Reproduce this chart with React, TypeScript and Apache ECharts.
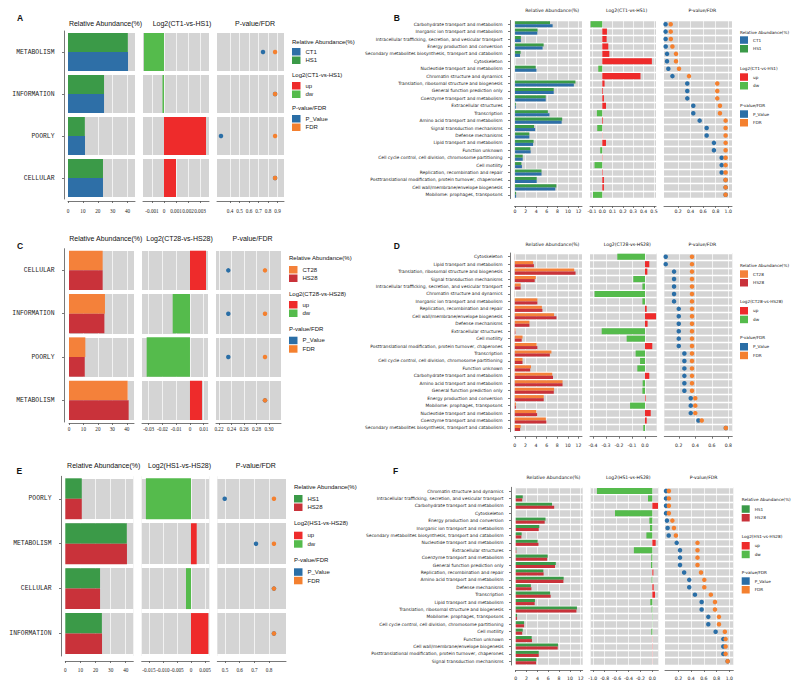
import React, { useEffect, useRef } from 'react';
import * as echarts from 'echarts';

// ---------- Panel A ----------
const catsA = ['METABOLISM', 'INFORMATION', 'POORLY', 'CELLULAR'];
const raA_CT1 = [40.3, 24.2, 11.4, 23.5];
const raA_HS1 = [40.2, 24.2, 11.3, 23.5];
const log2A = [-0.00167, -0.000125, 0.0035, 0.001];
const pA = [0.747, 0.874, 0.305, 0.874];
const fdrA = [0.874, 0.874, 0.874, 0.874];

// ---------- Panel C ----------
const catsC = ['CELLULAR', 'INFORMATION', 'POORLY', 'METABOLISM'];
const raC_CT28 = [23.3, 24.9, 11.3, 40.6];
const raC_HS28 = [23.3, 24.5, 10.9, 41.3];
const log2C = [0.01164, -0.01258, -0.0315, 0.00873];
const pC = [0.2349, 0.2349, 0.2349, 0.2936];
const fdrC = [0.2936, 0.2936, 0.2936, 0.2936];

// ---------- Panel E ----------
const catsE = ['POORLY', 'METABOLISM', 'CELLULAR', 'INFORMATION'];
const raE_HS1 = [10.9, 40.7, 23.0, 24.2];
const raE_HS28 = [10.9, 40.8, 23.0, 24.3];
const log2E = [-0.0161, 0.00204, -0.00179, 0.00618];
const pE = [0.498, 0.711, 0.833, 0.833];
const fdrE = [0.833, 0.833, 0.833, 0.833];

// ---------- Panel B ----------
const catsB = [
  'Carbohydrate transport and metabolism',
  'Inorganic ion transport and metabolism',
  'Intracellular trafficking, secretion, and vesicular transport',
  'Energy production and conversion',
  'Secondary metabolites biosynthesis, transport and catabolism',
  'Cytoskeleton',
  'Nucleotide transport and metabolism',
  'Chromatin structure and dynamics',
  'Translation, ribosomal structure and biogenesis',
  'General function prediction only',
  'Coenzyme transport and metabolism',
  'Extracellular structures',
  'Transcription',
  'Amino acid transport and metabolism',
  'Signal transduction mechanisms',
  'Defense mechanisms',
  'Lipid transport and metabolism',
  'Function unknown',
  'Cell cycle control, cell division, chromosome partitioning',
  'Cell motility',
  'Replication, recombination and repair',
  'Posttranslational modification, protein turnover, chaperones',
  'Cell wall/membrane/envelope biogenesis',
  'Mobilome: prophages, transposons',
];
const raB_CT1 = [7.1, 4.2, 1.1, 5.2, 0.95, 0.01, 4.05, 0.01, 11.1, 7.3, 5.8, 0.15, 6.5, 8.8, 3.8, 2.7, 3.4, 2.95, 1.45, 1.3, 5.0, 4.1, 7.6, 0.2];
const raB_HS1 = [6.6, 4.25, 1.1, 5.4, 1.05, 0.01, 3.9, 0.01, 11.4, 7.3, 5.8, 0.15, 6.2, 8.9, 3.6, 2.7, 3.5, 2.9, 1.45, 1.2, 5.0, 4.1, 7.8, 0.2];
const log2B = [-0.113, 0.045, 0.042, 0.058, 0.068, 0.48, -0.039, 0.37, 0.022, 0.007, 0.016, 0.036, -0.052, 0.007, -0.049, 0.002, 0.036, -0.02, 0.003, -0.075, 0.005, 0.016, 0.016, -0.09];
const pB = [0.001, 0.001, 0.002, 0.003, 0.024, 0.024, 0.045, 0.11, 0.347, 0.347, 0.347, 0.443, 0.443, 0.544, 0.656, 0.656, 0.772, 0.772, 0.895, 0.895, 0.895, 0.958, 0.958, 0.958];
const fdrB = [0.083, 0.083, 0.085, 0.11, 0.167, 0.167, 0.215, 0.374, 0.825, 0.825, 0.825, 0.868, 0.868, 0.958, 0.958, 0.958, 0.958, 0.958, 0.958, 0.958, 0.958, 0.958, 0.958, 0.958];

// ---------- Panel D ----------
const catsD = [
  'Cytoskeleton',
  'Lipid transport and metabolism',
  'Translation, ribosomal structure and biogenesis',
  'Signal transduction mechanisms',
  'Intracellular trafficking, secretion, and vesicular transport',
  'Chromatin structure and dynamics',
  'Inorganic ion transport and metabolism',
  'Replication, recombination and repair',
  'Cell wall/membrane/envelope biogenesis',
  'Defense mechanisms',
  'Extracellular structures',
  'Cell motility',
  'Posttranslational modification, protein turnover, chaperones',
  'Transcription',
  'Cell cycle control, cell division, chromosome partitioning',
  'Function unknown',
  'Carbohydrate transport and metabolism',
  'Amino acid transport and metabolism',
  'General function prediction only',
  'Energy production and conversion',
  'Mobilome: prophages, transposons',
  'Nucleotide transport and metabolism',
  'Coenzyme transport and metabolism',
  'Secondary metabolites biosynthesis, transport and catabolism',
];
const raD_CT28 = [0.01, 3.45, 11.2, 3.95, 1.1, 0.01, 4.25, 5.1, 7.4, 2.75, 0.12, 1.45, 4.1, 6.9, 1.45, 3.05, 7.05, 9.0, 7.4, 5.45, 0.2, 4.05, 5.85, 1.1];
const raD_HS28 = [0.01, 3.6, 11.45, 3.75, 1.1, 0.01, 4.25, 5.2, 7.85, 2.75, 0.12, 1.3, 4.25, 6.6, 1.45, 2.9, 7.2, 9.0, 7.35, 5.45, 0.2, 4.2, 5.95, 1.0];
const log2D = [-0.213, 0.033, 0.018, -0.09, -0.02, -0.388, -0.02, 0.013, 0.085, 0.02, -0.333, -0.141, 0.056, -0.072, -0.038, -0.059, 0.033, -0.018, -0.02, 0.005, -0.115, 0.044, 0.013, -0.013];
const pD = [0.042, 0.042, 0.143, 0.143, 0.143, 0.143, 0.143, 0.2, 0.2, 0.2, 0.2, 0.2, 0.2, 0.268, 0.268, 0.268, 0.268, 0.268, 0.268, 0.345, 0.345, 0.345, 0.438, 0.77];
const fdrD = [0.36, 0.36, 0.36, 0.36, 0.36, 0.36, 0.36, 0.36, 0.36, 0.36, 0.36, 0.36, 0.36, 0.36, 0.36, 0.36, 0.36, 0.36, 0.36, 0.4, 0.4, 0.4, 0.478, 0.77];

// ---------- Panel F ----------
const catsF = [
  'Chromatin structure and dynamics',
  'Intracellular trafficking, secretion, and vesicular transport',
  'Carbohydrate transport and metabolism',
  'Cytoskeleton',
  'Energy production and conversion',
  'Inorganic ion transport and metabolism',
  'Secondary metabolites biosynthesis, transport and catabolism',
  'Nucleotide transport and metabolism',
  'Extracellular structures',
  'Coenzyme transport and metabolism',
  'General function prediction only',
  'Replication, recombination and repair',
  'Amino acid transport and metabolism',
  'Defense mechanisms',
  'Transcription',
  'Lipid transport and metabolism',
  'Translation, ribosomal structure and biogenesis',
  'Mobilome: prophages, transposons',
  'Cell cycle control, cell division, chromosome partitioning',
  'Cell motility',
  'Function unknown',
  'Cell wall/membrane/envelope biogenesis',
  'Posttranslational modification, protein turnover, chaperones',
  'Signal transduction mechanisms',
];
const raF_HS1 = [0.01, 1.3, 6.7, 0.01, 5.5, 4.35, 1.1, 4.05, 0.12, 5.9, 7.4, 5.1, 8.85, 2.8, 6.35, 3.55, 11.3, 0.25, 1.55, 1.3, 2.95, 7.8, 4.25, 3.8];
const raF_HS28 = [0.01, 1.2, 7.1, 0.01, 5.35, 4.25, 1.05, 4.2, 0.12, 5.8, 7.25, 5.15, 8.8, 2.9, 6.45, 3.5, 11.2, 0.25, 1.55, 1.2, 3.0, 7.75, 4.25, 3.75];
const log2F = [-0.93, -0.073, 0.095, -0.627, -0.05, -0.04, -0.1, 0.056, -0.31, -0.017, -0.022, 0.017, -0.011, 0.022, 0.045, -0.034, -0.011, -0.005, -0.003, -0.017, 0.003, 0.004, 0.003, 0.002];
const pF = [0.005, 0.005, 0.005, 0.005, 0.02, 0.03, 0.047, 0.173, 0.225, 0.225, 0.225, 0.29, 0.37, 0.37, 0.46, 0.565, 0.565, 0.67, 0.67, 0.785, 0.906, 0.906, 0.906, 0.974];
const fdrF = [0.05, 0.05, 0.05, 0.05, 0.105, 0.13, 0.16, 0.5, 0.5, 0.5, 0.5, 0.555, 0.607, 0.607, 0.71, 0.775, 0.775, 0.838, 0.838, 0.93, 0.942, 0.942, 0.942, 0.974];

// ---------- tick values ----------
const ticksRA_big = [0, 10, 20, 30, 40];
const ticksL2A = [-0.001, 0, 0.001, 0.002, 0.003];
const ticksPA = [0.4, 0.5, 0.6, 0.7, 0.8, 0.9];
const ticksL2C = [-0.03, -0.02, -0.01, 0, 0.01];
const ticksPC = [0.22, 0.24, 0.26, 0.28, 0.3];
const ticksL2E = [-0.015, -0.01, -0.005, 0, 0.005];
const ticksPE = [0.5, 0.6, 0.7, 0.8];
const ticksRA_small = [0, 2, 4, 6, 8, 10, 12];
const ticksL2B = [-0.1, 0, 0.1, 0.2, 0.3, 0.4, 0.5];
const ticksP_BF = [0.2, 0.4, 0.6, 0.8, 1.0];
const ticksL2D = [-0.4, -0.3, -0.2, -0.1, 0];
const ticksPD = [0.2, 0.4, 0.6, 0.8];
const ticksL2F = [-1.0, -0.8, -0.6, -0.4, -0.2, 0];

// ---------- colours ----------
const GRAY = '#d4d4d4';
const AXIS_C = '#555555';
const TEXT_C = '#222222';
const C_CT1 = '#2e6fa7';
const C_HS1 = '#3b9a48';
const C_CT28 = '#f4813a';
const C_HS28 = '#c9323a';
const C_UP = '#ee2b2b';
const C_DW = '#55bb4c';
const C_P = '#2a6ea6';
const C_FDR = '#f4802f';

const BIG = {
  catFamily: 'Liberation Mono', catSize: 6.4,
  tickFamily: 'Liberation Serif', tickSize: 5.2,
  titleFamily: 'Liberation Sans', titleSize: 7,
  legFamily: 'Liberation Sans', legSize: 6,
  itemW: 8.5, itemH: 7.5, itemGap: 1, bcg: 4 as any, sym: 4.5,
};
const SMALL = {
  catFamily: 'DejaVu Sans', catSize: 4.4,
  tickFamily: 'DejaVu Sans', tickSize: 4.6,
  titleFamily: 'DejaVu Sans', titleSize: 4.6,
  legFamily: 'DejaVu Sans', legSize: 4.2,
  itemW: 8, itemH: 7.5, itemGap: 1.2, bcg: '18%' as any, sym: 4.5,
};

const geoA = {
  letter: [20, 18], top: 31, bottom: 199, gap: 4,
  cols: [[68, 135], [143, 209], [217, 284]],
  ranges: [[0, 45], [-0.00175, 0.00375], [0.263, 0.968]],
  titleY: 23, titleX: [105.5, 182, 255],
  xOff: 2, xMargin: 7, yOff: 4, yMargin: 9.5,
  legendX: 292, legendTitleY: [42, 75, 108], legendTop: [48, 82, 115],
};
const geoC = {
  letter: [20, 246], top: 248.7, bottom: 422, gap: 4,
  cols: [[69, 134], [142, 208], [216, 281]],
  ranges: [[0, 45], [-0.0349, 0.0131], [0.2152, 0.3192]],
  titleY: 238, titleX: [105.8, 179.5, 252.5],
  xOff: 1, xMargin: 3, yOff: 5, yMargin: 9.5,
  legendX: 289, legendTitleY: [258, 294, 329], legendTop: [266, 301, 336.7],
};
const geoE = {
  letter: [19.3, 470.7], top: 476.3, bottom: 656, gap: 4,
  cols: [[65.3, 133.3], [141.7, 209.3], [217.3, 286]],
  ranges: [[0, 45], [-0.0176, 0.00654], [0.4476, 0.915]],
  titleY: 465.7, titleX: [103.7, 179.5, 255.8],
  xOff: 5, xMargin: 6, yOff: 4.3, yMargin: 9.5,
  legendX: 294, legendTitleY: [486.7, 523.3, 560], legendTop: [495, 531.7, 568.3],
};
const geoB = {
  letter: [396.7, 18.3], top: 20.5, bottom: 198.5, gap: 1.3,
  cols: [[514.5, 582], [590, 656], [664, 732]],
  ranges: [[-0.1, 12.64], [-0.119, 0.52], [-0.024, 1.06]],
  titleY: 10, titleX: [552.2, 626.7, 702.3],
  xOff: 7.5, xMargin: 3, yOff: 4.5, yMargin: 7.5,
  legendX: 740, legendTitleY: [32, 68, 105], legendTop: [36.3, 73.3, 110.3],
};
const geoD = {
  letter: [396.7, 245.7], top: 253, bottom: 431.7, gap: 1.3,
  cols: [[514.3, 582], [590, 656.7], [664.3, 732.3]],
  ranges: [[-0.1, 12.67], [-0.423, 0.09], [0.025, 0.848]],
  titleY: 244, titleX: [552.5, 627.2, 702.3],
  xOff: 5, xMargin: 6, yOff: 4.3, yMargin: 7.5,
  legendX: 740, legendTitleY: [265, 301.7, 337.7], legendTop: [270.3, 307, 343],
};
const geoF = {
  letter: [395.7, 470.7], top: 487.3, bottom: 665, gap: 1.3,
  cols: [[515.7, 582.7], [590.7, 658.3], [665, 733.3]],
  ranges: [[0, 12.36], [-1.035, 0.1], [-0.011, 1.063]],
  titleY: 477.3, titleX: [553.5, 628.3, 703.7],
  xOff: 5, xMargin: 6, yOff: 4.7, yMargin: 7.5,
  legendX: 741.7, legendTitleY: [499.3, 536, 572.3], legendTop: [505.3, 542, 577.3],
};

const panels = [
  { letter: 'A', geo: geoA, S: BIG, cats: catsA,
    ra: [{ name: 'HS1', data: raA_HS1, color: C_HS1 }, { name: 'CT1', data: raA_CT1, color: C_CT1 }],
    raLegend: ['CT1', 'HS1'], log2Title: 'Log2(CT1-vs-HS1)', log2: log2A, p: pA, fdr: fdrA,
    ticks: [ticksRA_big, ticksL2A, ticksPA], dec: [0, 3, 1], zeroPlain: true },
  { letter: 'B', geo: geoB, S: SMALL, cats: catsB,
    ra: [{ name: 'HS1', data: raB_HS1, color: C_HS1 }, { name: 'CT1', data: raB_CT1, color: C_CT1 }],
    raLegend: ['CT1', 'HS1'], log2Title: 'Log2(CT1-vs-HS1)', log2: log2B, p: pB, fdr: fdrB,
    ticks: [ticksRA_small, ticksL2B, ticksP_BF], dec: [0, 1, 1], zeroPlain: false },
  { letter: 'C', geo: geoC, S: BIG, cats: catsC,
    ra: [{ name: 'CT28', data: raC_CT28, color: C_CT28 }, { name: 'HS28', data: raC_HS28, color: C_HS28 }],
    raLegend: ['CT28', 'HS28'], log2Title: 'Log2(CT28-vs-HS28)', log2: log2C, p: pC, fdr: fdrC,
    ticks: [ticksRA_big, ticksL2C, ticksPC], dec: [0, 2, 2], zeroPlain: true },
  { letter: 'D', geo: geoD, S: SMALL, cats: catsD,
    ra: [{ name: 'CT28', data: raD_CT28, color: C_CT28 }, { name: 'HS28', data: raD_HS28, color: C_HS28 }],
    raLegend: ['CT28', 'HS28'], log2Title: 'Log2(CT28-vs-HS28)', log2: log2D, p: pD, fdr: fdrD,
    ticks: [ticksRA_small, ticksL2D, ticksPD], dec: [0, 1, 1], zeroPlain: false },
  { letter: 'E', geo: geoE, S: BIG, cats: catsE,
    ra: [{ name: 'HS1', data: raE_HS1, color: C_HS1 }, { name: 'HS28', data: raE_HS28, color: C_HS28 }],
    raLegend: ['HS1', 'HS28'], log2Title: 'Log2(HS1-vs-HS28)', log2: log2E, p: pE, fdr: fdrE,
    ticks: [ticksRA_big, ticksL2E, ticksPE], dec: [0, 3, 1], zeroPlain: true },
  { letter: 'F', geo: geoF, S: SMALL, cats: catsF,
    ra: [{ name: 'HS1', data: raF_HS1, color: C_HS1 }, { name: 'HS28', data: raF_HS28, color: C_HS28 }],
    raLegend: ['HS1', 'HS28'], log2Title: 'Log2(HS1-vs-HS28)', log2: log2F, p: pF, fdr: fdrF,
    ticks: [ticksRA_small, ticksL2F, ticksP_BF], dec: [0, 1, 1], zeroPlain: false },
];

function txt(x: number, y: number, text: string, size: number, family: string, align = 'center', weight = 'normal') {
  return {
    type: 'text', x, y, silent: true,
    style: {
      text, fontSize: size, fontFamily: family, fontWeight: weight, fill: '#111111',
      align, verticalAlign: 'middle', textAlign: align, textVerticalAlign: 'middle',
    },
  };
}

function addPanel(opt: any, P: any) {
  const g = P.geo;
  const S = P.S;
  const base = opt.grid.length;
  for (let k = 0; k < 3; k++) {
    const [x0, x1] = g.cols[k];
    opt.grid.push({
      left: x0, top: g.top, width: x1 - x0, height: g.bottom - g.top,
      show: true, backgroundColor: GRAY, borderWidth: 0, containLabel: false,
    });
    const ticks = P.ticks[k];
    const dec = P.dec[k];
    const plainZero = P.zeroPlain && k === 1;
    opt.xAxis.push({
      gridIndex: base + k, type: 'value', min: g.ranges[k][0], max: g.ranges[k][1],
      position: 'bottom', offset: g.xOff,
      axisLine: { show: true, onZero: false, lineStyle: { color: AXIS_C, width: 0.8 } },
      axisTick: { show: true, length: 2, customValues: ticks, lineStyle: { color: AXIS_C, width: 0.8 } },
      axisLabel: {
        customValues: ticks, margin: g.xMargin, color: TEXT_C,
        fontSize: S.tickSize, fontFamily: S.tickFamily, hideOverlap: false,
        showMinLabel: true, showMaxLabel: true,
        formatter: (v: number) => (plainZero && Math.abs(v) < 1e-12 ? '0' : Number(v).toFixed(dec)),
      },
      splitLine: { show: true, lineStyle: { color: '#ffffff', width: 0.7 } },
    });
    opt.yAxis.push({
      gridIndex: base + k, type: 'category', data: P.cats, inverse: true, offset: g.yOff,
      axisLine: { show: k === 0, onZero: false, lineStyle: { color: AXIS_C, width: 0.8 } },
      axisTick: { show: k === 0, alignWithLabel: true, interval: 0, length: 2, lineStyle: { color: AXIS_C, width: 0.8 } },
      axisLabel: {
        show: k === 0, interval: 0, margin: g.yMargin, color: TEXT_C,
        fontSize: S.catSize, fontFamily: S.catFamily,
      },
      splitLine: { show: true, interval: 0, lineStyle: { color: '#ffffff', width: g.gap } },
    });
  }
  P.ra.forEach((r: any) => {
    opt.series.push({
      type: 'bar', name: r.name, xAxisIndex: base, yAxisIndex: base, data: r.data,
      itemStyle: { color: r.color }, barGap: '0%', barCategoryGap: S.bcg, silent: true,
    });
  });
  opt.series.push({
    type: 'bar', name: 'up', stack: 'l2' + P.letter, xAxisIndex: base + 1, yAxisIndex: base + 1,
    data: P.log2.map((v: number) => (v > 0 ? v : '-')), itemStyle: { color: C_UP },
    barCategoryGap: S.bcg, silent: true,
  });
  opt.series.push({
    type: 'bar', name: 'dw', stack: 'l2' + P.letter, xAxisIndex: base + 1, yAxisIndex: base + 1,
    data: P.log2.map((v: number) => (v < 0 ? v : '-')), itemStyle: { color: C_DW },
    barCategoryGap: S.bcg, silent: true,
  });
  opt.series.push({
    type: 'scatter', name: 'P_Value', xAxisIndex: base + 2, yAxisIndex: base + 2, clip: false,
    data: P.p.map((v: number, i: number) => [v, i]), symbolSize: S.sym,
    itemStyle: { color: C_P, opacity: 1 }, silent: true,
  });
  opt.series.push({
    type: 'scatter', name: 'FDR', xAxisIndex: base + 2, yAxisIndex: base + 2, clip: false,
    data: P.fdr.map((v: number, i: number) => [v, i]), symbolSize: S.sym,
    itemStyle: { color: C_FDR, opacity: 1 }, silent: true,
  });

  const sets = [P.raLegend, ['up', 'dw'], ['P_Value', 'FDR']];
  const ltitles = ['Relative Abundance(%)', P.log2Title, 'P-value/FDR'];
  for (let j = 0; j < 3; j++) {
    opt.legend.push({
      data: sets[j], orient: 'vertical', left: g.legendX, top: g.legendTop[j],
      itemWidth: S.itemW, itemHeight: S.itemH, itemGap: S.itemGap, icon: 'rect',
      padding: 0, selectedMode: false,
      textStyle: { fontSize: S.legSize, fontFamily: S.legFamily, color: TEXT_C },
    });
    opt.graphic.push(txt(g.legendX, g.legendTitleY[j], ltitles[j], S.legSize, S.legFamily, 'left'));
  }
  const stitles = ['Relative Abundance(%)', P.log2Title, 'P-value/FDR'];
  for (let k = 0; k < 3; k++) {
    opt.graphic.push(txt(g.titleX[k], g.titleY, stitles[k], S.titleSize, S.titleFamily));
  }
  opt.graphic.push(txt(g.letter[0], g.letter[1], P.letter, 8.5, 'Liberation Sans', 'center', 'bold'));
}

function buildOption() {
  const opt: any = {
    animation: false, backgroundColor: '#ffffff',
    grid: [], xAxis: [], yAxis: [], series: [], legend: [], graphic: [],
  };
  panels.forEach((P) => addPanel(opt, P));
  return opt;
}

export default function App() {
  const ref = useRef<HTMLDivElement>(null);
  useEffect(() => {
    const chart = echarts.init(ref.current as HTMLDivElement, null, { renderer: 'svg', width: 796, height: 691 });
    chart.setOption(buildOption());
    return () => chart.dispose();
  }, []);
  return (
    <div
      ref={ref}
      style={{ position: 'fixed', left: 0, top: 0, width: 796, height: 691, background: '#ffffff' }}
    />
  );
}
